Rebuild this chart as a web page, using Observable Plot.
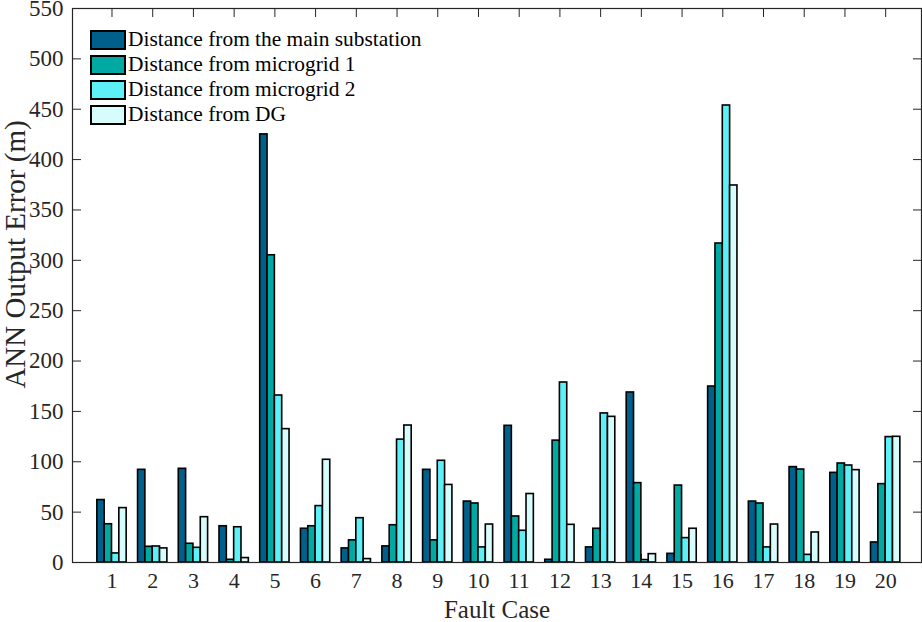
<!DOCTYPE html>
<html>
<head>
<meta charset="utf-8">
<script src="https://cdn.jsdelivr.net/npm/d3@7"></script>
<script src="https://cdn.jsdelivr.net/npm/@observablehq/plot@0.6"></script>
<style>
  html, body { margin: 0; padding: 0; background: #fff; }
  #wrap { position: relative; width: 922px; height: 622px; font-family: "Liberation Serif", "Times New Roman", serif; }
  #legend { position: absolute; left: 90px; top: 27px; }
  .row { display: flex; align-items: center; height: 25px; }
  .sw { width: 32px; height: 16px; border: 2px solid #000; box-sizing: content-box; margin-right: 2px; }
  .lab { font-size: 21.4px; color: #000; line-height: 25px; white-space: nowrap; }
</style>
</head>
<body>
<div id="wrap"><div id="chart"></div><div id="legend"></div></div>
<script>
const cases = [1, 2, 3, 4, 5, 6, 7, 8, 9, 10, 11, 12, 13, 14, 15, 16, 17, 18, 19, 20];
const seriesNames = ["Distance from the main substation", "Distance from microgrid 1", "Distance from microgrid 2", "Distance from DG"];
const seriesColors = ["#00608c", "#00a9a2", "#5ef0f7", "#d6fcfc"];
const mainSubstation = [62, 92, 93, 36, 425, 33.5, 14, 16, 92, 60.5, 135.7, 2.7, 15, 168.8, 8.6, 174.7, 60.5, 94.7, 89, 19.9];
const microgrid1 = [38, 15.6, 18.6, 2.7, 305, 36, 22, 37, 22, 58.6, 45.7, 121, 33.5, 78.8, 76.4, 316.7, 58.6, 92.3, 98.3, 77.8];
const microgrid2 = [9, 15.9, 14.6, 35, 165.8, 56, 44, 122, 101, 15, 31.5, 178.7, 148, 2.4, 24.2, 453.7, 15, 7.6, 96.3, 124.5];
const fromDG = [54, 14, 45, 4.4, 132.4, 102, 3.4, 136, 77, 37.7, 68, 37.4, 144.6, 8.3, 33.5, 374.3, 37.7, 29.8, 91.7, 124.8];
const yTicks = [0, 50, 100, 150, 200, 250, 300, 350, 400, 450, 500, 550];

const allSeries = [mainSubstation, microgrid1, microgrid2, fromDG];
const data = [];
allSeries.forEach((vals, s) => {
  vals.forEach((v, i) => data.push({ fault: cases[i], s, series: seriesNames[s], value: v }));
});

const barW = 0.18;
const font = "Liberation Serif, Times New Roman, serif";

const chart = Plot.plot({
  width: 922,
  height: 622,
  marginTop: 8,
  marginRight: 1,
  marginBottom: 60,
  marginLeft: 72,
  style: { fontFamily: font, fontSize: "22px", color: "#262626", background: "#fff", overflow: "visible" },
  x: { domain: [0.03, 20.88] },
  y: { domain: [0, 550] },
  color: { domain: seriesNames, range: seriesColors },
  marks: [
    // inward ticks (box style)
    Plot.axisX(cases, { anchor: "top", tickSize: -8, tickFormat: () => "", label: null, stroke: "#262626" }),
    Plot.axisX(cases, { anchor: "bottom", tickSize: -8, tickFormat: () => "", label: null, stroke: "#262626" }),
    Plot.axisY(yTicks, { anchor: "left", tickSize: -9, tickFormat: () => "", label: null, stroke: "#262626" }),
    Plot.axisY(yTicks, { anchor: "right", tickSize: -9, tickFormat: () => "", label: null, stroke: "#262626" }),
    // labels
    Plot.axisX(cases, { anchor: "bottom", tickSize: 0, tickPadding: 10, label: null, fill: "#262626", fontSize: 22 }),
    Plot.axisY(yTicks, { anchor: "left", tickSize: 0, tickPadding: 9, label: null, fill: "#262626", fontSize: 23 }),
    Plot.rect(data, {
      x1: d => d.fault - 2 * barW + d.s * barW,
      x2: d => d.fault - barW + d.s * barW,
      y1: 0,
      y2: "value",
      fill: "series",
      stroke: "#000",
      strokeWidth: 1.6
    }),
    Plot.frame({ stroke: "#262626", strokeWidth: 1.2 }),
    Plot.text(["Fault Case"], { frameAnchor: "bottom", lineAnchor: "middle", dy: 47, fontSize: 25, fill: "#262626" }),
    Plot.text(["ANN Output Error (m)"], { frameAnchor: "left", textAnchor: "middle", lineAnchor: "middle", dx: -57, dy: -31, rotate: -90, fontSize: 29, fill: "#262626" })
  ]
});
document.getElementById("chart").appendChild(chart);

const legend = document.getElementById("legend");
seriesNames.forEach((name, i) => {
  const row = document.createElement("div");
  row.className = "row";
  const sw = document.createElement("div");
  sw.className = "sw";
  sw.style.background = seriesColors[i];
  const lab = document.createElement("div");
  lab.className = "lab";
  lab.textContent = name;
  row.appendChild(sw);
  row.appendChild(lab);
  legend.appendChild(row);
});
</script>
</body>
</html>
